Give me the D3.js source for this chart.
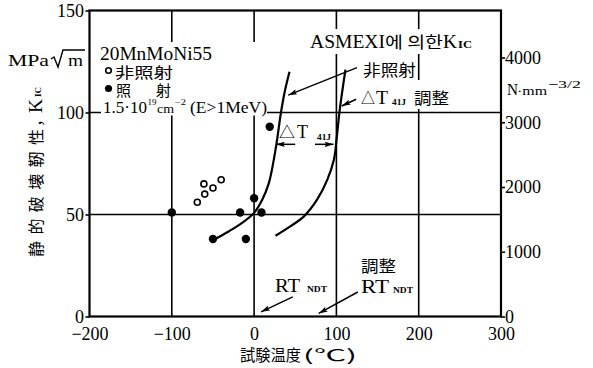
<!DOCTYPE html>
<html>
<head>
<meta charset="utf-8">
<script src="https://cdn.jsdelivr.net/npm/d3@7"></script>
<style>
  html, body { margin: 0; padding: 0; background: #fff; }
  svg { display: block; }
</style>
</head>
<body>
<svg id="chart" width="593" height="368"></svg>
<script>
// Temperature axis (°C) and fracture toughness axes
const xTicks = [-200, -100, 0, 100, 200, 300];
const yTicks = [0, 50, 100, 150];
const yRightTicks = [0, 1000, 2000, 3000, 4000];
const gridX = [-100, 0, 100, 200];
const gridY = [50, 100];

// 20MnMoNi55 test results: unirradiated (open) and irradiated (filled)
const unirrT = [-69, -60, -61, -50, -40];
const unirrK = [56, 60, 65, 63, 67];
const irrT = [-100, -17, 0, 9, -50, -10, 19];
const irrK = [51, 51, 58, 51, 38, 38, 93];

// ASME XI K_Ic reference curves: unirradiated and ΔT41J-shifted
const baseT = [-49, -31, -15, 0, 10, 18, 24, 28, 32, 37, 43];
const baseK = [37.6, 41.7, 45.8, 50.8, 57.3, 65.5, 77, 86.8, 98.3, 109.8, 120];
const shiftT = [26, 44, 60.5, 76.5, 89, 97, 100.5, 103.5, 107, 111];
const shiftK = [39.6, 44.2, 49.1, 57.3, 67.1, 77, 88, 99.5, 110, 121];

const svg = d3.select("#chart");
const x = d3.scaleLinear().domain([-200, 300]).range([89.5, 501]);
const y = d3.scaleLinear().domain([0, 150]).range([316.5, 10.5]);
const yR = d3.scaleLinear().domain([0, 4000]).range([316.5, 57.5]);

const SERIF = '"Liberation Serif", "DejaVu Serif", serif';
const CJK = '"Noto Sans CJK JP", "Noto Sans CJK KR", sans-serif';

// grid
const g = svg.append("g");
g.selectAll("line.gx").data(gridX).join("line")
  .attr("x1", d => x(d)).attr("x2", d => x(d))
  .attr("y1", y(0)).attr("y2", y(150))
  .attr("stroke", "#000").attr("stroke-width", 1.6);
g.selectAll("line.gy").data(gridY).join("line")
  .attr("x1", x(-200)).attr("x2", x(300))
  .attr("y1", d => y(d)).attr("y2", d => y(d))
  .attr("stroke", "#000").attr("stroke-width", 1.6);

// axes
const fmt = d => d < 0 ? "\u2212" + Math.abs(d) : String(d);
const ax = svg.append("g").attr("transform", `translate(0,${y(0)})`)
  .call(d3.axisBottom(x).tickValues(xTicks).tickSize(0).tickPadding(10.5).tickFormat(fmt));
const ayl = svg.append("g").attr("transform", `translate(${x(-200)},0)`)
  .call(d3.axisLeft(y).tickValues(yTicks).tickSize(4).tickPadding(1.5).tickFormat(d3.format("d")));
const ayr = svg.append("g").attr("transform", `translate(${x(300)},0)`)
  .call(d3.axisRight(yR).tickValues(yRightTicks).tickSize(4).tickPadding(0).tickFormat(d3.format("d")));
[ax, ayl, ayr].forEach(a => {
  a.select(".domain").remove();
  a.selectAll("text").attr("font-family", SERIF).attr("font-size", 18).attr("fill", "#000");
  a.selectAll("line").attr("stroke", "#000").attr("stroke-width", 1.6);
});

// frame
svg.append("rect")
  .attr("x", x(-200)).attr("y", y(150))
  .attr("width", x(300) - x(-200)).attr("height", y(0) - y(150))
  .attr("fill", "none").attr("stroke", "#000").attr("stroke-width", 2.2);

// label backgrounds that interrupt the grid
function blank(x0, y0, x1, y1) {
  svg.append("rect").attr("x", x0).attr("y", y0).attr("width", x1 - x0).attr("height", y1 - y0).attr("fill", "#fff");
}
blank(101, 42, 267, 115.5);
blank(306, 29, 490, 54);
blank(355, 80, 451, 109);

function txt(s, xx, yy, size, fam, opts = {}) {
  const t = svg.append("text").attr("x", xx).attr("y", yy)
    .attr("font-size", size).attr("font-family", fam).attr("fill", "#000").text(s);
  if (opts.len) t.attr("textLength", opts.len).attr("lengthAdjust", "spacingAndGlyphs");
  if (opts.anchor) t.attr("text-anchor", opts.anchor);
  if (opts.weight) t.attr("font-weight", opts.weight);
  return t;
}

// curves
const line = d3.line().x(d => x(d[0])).y(d => y(d[1])).curve(d3.curveCatmullRom.alpha(0.5));
svg.append("path").datum(d3.zip(baseT, baseK)).attr("d", line)
  .attr("fill", "none").attr("stroke", "#000").attr("stroke-width", 2.2);
svg.append("path").datum(d3.zip(shiftT, shiftK)).attr("d", line)
  .attr("fill", "none").attr("stroke", "#000").attr("stroke-width", 2.2);

// markers
svg.selectAll("circle.open").data(d3.zip(unirrT, unirrK)).join("circle")
  .attr("cx", d => x(d[0])).attr("cy", d => y(d[1])).attr("r", 3)
  .attr("fill", "#fff").attr("stroke", "#000").attr("stroke-width", 1.6);
svg.selectAll("circle.fill").data(d3.zip(irrT, irrK)).join("circle")
  .attr("cx", d => x(d[0])).attr("cy", d => y(d[1])).attr("r", 4.2)
  .attr("fill", "#000");

// arrowheads
svg.append("defs").append("marker").attr("id", "ah")
  .attr("viewBox", "0 0 10 6").attr("refX", 10).attr("refY", 3)
  .attr("markerWidth", 9).attr("markerHeight", 5.4).attr("markerUnits", "userSpaceOnUse")
  .attr("orient", "auto")
  .append("path").attr("d", "M0,0 L10,3 L0,6 L2,3 Z").attr("fill", "#000");
function arrow(t0, k0, t1, k1) {
  svg.append("line").attr("x1", x(t0)).attr("y1", y(k0)).attr("x2", x(t1)).attr("y2", y(k1))
    .attr("stroke", "#000").attr("stroke-width", 1.5).attr("marker-end", "url(#ah)");
}
arrow(125, 122, 41.5, 108.5);
arrow(124, 106.5, 106.5, 103.2);
arrow(50, 84.4, 26.5, 84.4);
arrow(74, 84.4, 96.5, 84.4);
arrow(47, 9.6, 8.5, 2.3);
arrow(126, 12, 78.5, 1.5);

// legend block
txt("20MnMoNi55", 100, 60, 18, SERIF, {len: 112});
svg.append("circle").attr("cx", 108.5).attr("cy", 70.5).attr("r", 2.8)
  .attr("fill", "#fff").attr("stroke", "#000").attr("stroke-width", 1.6);
txt("非照射", 115, 77.5, 15, CJK, {len: 58});
svg.append("circle").attr("cx", 108.5).attr("cy", 88.5).attr("r", 3.6).attr("fill", "#000");
txt("照", 116, 96, 15, CJK);
txt("射", 156, 96, 15, CJK);
txt("1.5·10", 103, 113, 16, SERIF, {len: 44});
txt("19", 147.5, 105, 8.5, SERIF, {len: 9});
txt("cm", 157, 113, 13, SERIF, {len: 17});
txt("−2", 175, 105, 8.5, SERIF, {len: 11});
txt("(E>1MeV)", 190, 113, 16, SERIF, {len: 77});

// unit on the left axis
txt("MPa", 8, 66, 17, SERIF, {len: 41});
svg.append("path").attr("d", "M51,59 L54,57 L58,67 L63,50 L85,50")
  .attr("fill", "none").attr("stroke", "#000").attr("stroke-width", 1.4);
txt("m", 68, 66, 17, SERIF, {len: 15});

// right axis unit
txt("N", 507, 95, 17, SERIF, {len: 11});
txt("·mm", 517, 95, 13, SERIF, {len: 30});
txt("−3/2", 548, 88, 11, SERIF, {len: 33});

// ASME XI heading
txt("ASMEXI", 310, 48, 19, SERIF, {len: 75});
txt("에 의한", 385, 48, 16, CJK, {len: 58});
txt("K", 443, 48, 19, SERIF, {len: 14});
txt("IC", 458, 48, 11, SERIF, {len: 14, weight: "bold"});

// curve labels
txt("非照射", 363, 76, 16, CJK, {len: 53});
txt("△", 361, 104, 16, CJK, {len: 14});
txt("T", 376, 104, 19, SERIF, {len: 12});
txt("41J", 392, 105, 8, SERIF, {len: 14, weight: "bold"});
txt("調整", 414, 104, 16, CJK, {len: 35});

txt("△", 279, 138, 16, CJK, {len: 16});
txt("T", 297, 138, 19, SERIF, {len: 11});
txt("41J", 317, 140, 8, SERIF, {len: 14, weight: "bold"});

// RT_NDT labels
txt("RT", 275, 291.5, 19, SERIF, {len: 25});
txt("NDT", 307, 291.5, 8, SERIF, {len: 20, weight: "bold"});
txt("調整", 361, 272, 16, CJK, {len: 35});
txt("RT", 361, 293, 19, SERIF, {len: 28});
txt("NDT", 393, 293, 8, SERIF, {len: 20, weight: "bold"});

// axis titles
txt("試験温度", 240, 361, 16, CJK, {len: 61});
txt("(℃)", 303, 361, 16, CJK, {len: 54});

const yt = svg.append("g").attr("transform", "translate(42,257) rotate(-90)");
yt.append("text").attr("x", 0).attr("y", 0).attr("font-family", CJK).attr("font-size", 16)
  .attr("textLength", 128).attr("lengthAdjust", "spacing").text("静的破壊靭性");
yt.append("text").attr("x", 130).attr("y", 0).attr("font-family", CJK).attr("font-size", 16).text("，");
yt.append("text").attr("x", 144).attr("y", 0).attr("font-family", SERIF).attr("font-size", 18)
  .attr("textLength", 14).attr("lengthAdjust", "spacingAndGlyphs").text("K");
yt.append("text").attr("x", 160).attr("y", -1).attr("font-family", SERIF).attr("font-size", 9)
  .attr("font-weight", "bold").text("IC");
</script>
</body>
</html>
